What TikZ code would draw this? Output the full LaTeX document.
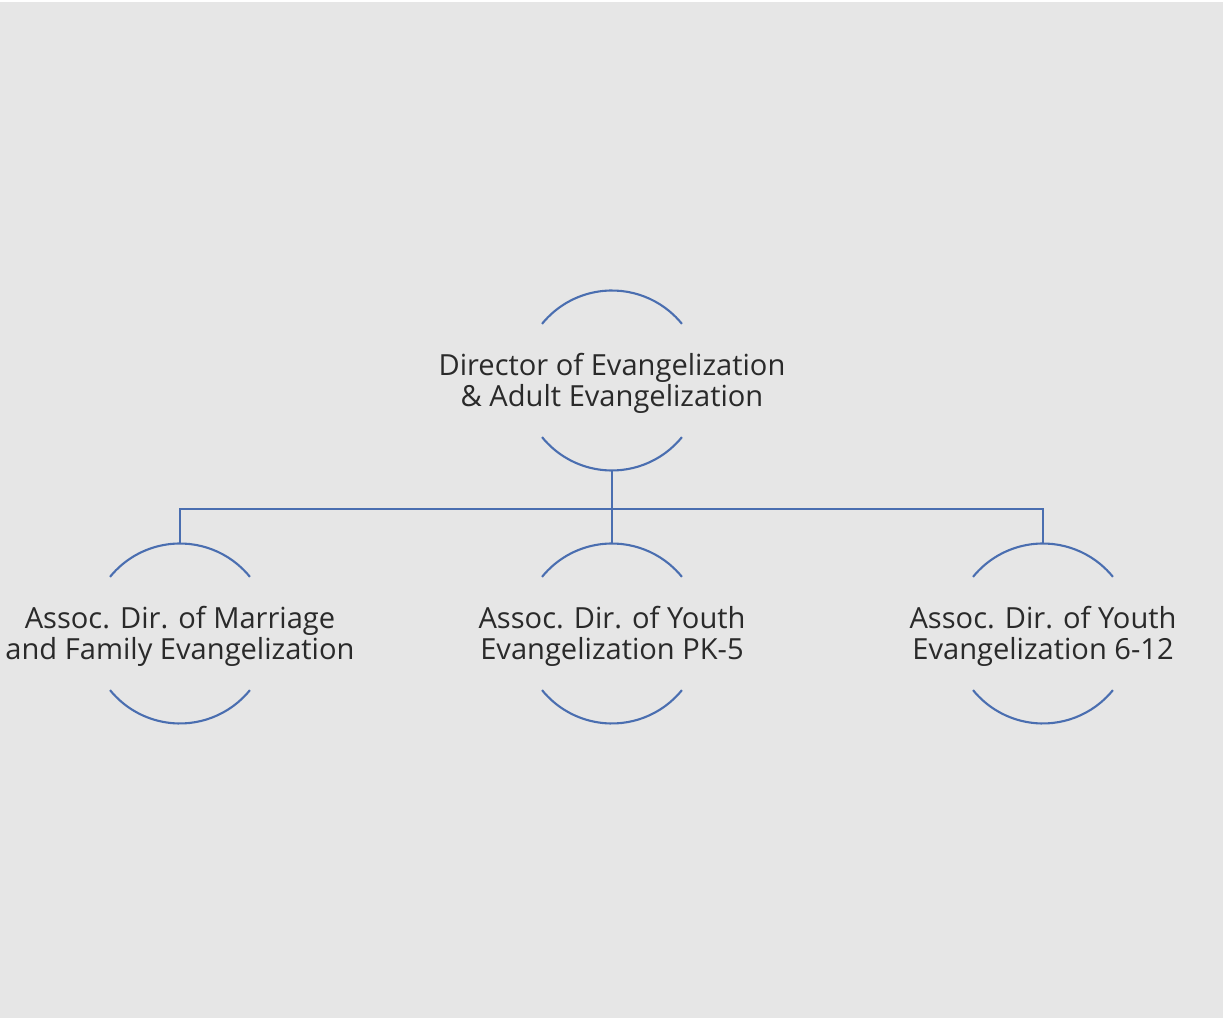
\documentclass[tikz,border=0pt]{standalone}
\usepackage{fontspec}
\setmainfont{Open Sans}
\usepackage{tikz}
\definecolor{bggray}{HTML}{E6E6E6}
\definecolor{linkblue}{HTML}{4A6EB0}
\definecolor{labelgray}{HTML}{2A2A2A}

\begin{document}
\begin{tikzpicture}[x=0.02cm, y=0.02cm,
    ring/.style={circle, minimum size=3.6cm, inner sep=0pt, outer sep=0pt},
    label/.style={align=center, text=labelgray, yshift=-0.06cm,
        font=\fontsize{16.55}{18}\selectfont},
    arcline/.style={draw=linkblue, line width=1.2pt},
    link/.style={draw=linkblue, line width=1.2pt}]

    % Page and background
    \useasboundingbox (0,0) rectangle (1225,1018);
    \fill[bggray] (0,0) rectangle (1223,1016);

    % Rings
    \node[ring] (dirring) at (612,637.5) {};
    \node[ring] (marrring) at (180,384.5) {};
    \node[ring] (pkring) at (612,384.5) {};
    \node[ring] (hsring) at (1043,384.5) {};

    % Labels
    \node[label] (dir) at (dirring) {Director of Evangelization\\\& Adult Evangelization};
    \node[label] (marr) at (marrring) {Assoc. Dir. of Marriage\\and Family Evangelization};
    \node[label] (pk) at (pkring) {Assoc. Dir. of Youth\\Evangelization PK-5};
    \node[label] (hs) at (hsring) {Assoc. Dir. of Youth\\Evangelization 6-12};

    % Arcs round each label
    \foreach \r in {dirring, marrring, pkring, hsring} {
        \draw[arcline] (\r.39) arc[start angle=39, end angle=141, radius=90];
        \draw[arcline] (\r.-39) arc[start angle=-39, end angle=-141, radius=90];
    }

    % Connectors
    \coordinate (bus) at (612,509);
    \draw[link] (dirring.south) -- (pkring.north);
    \draw[link] (marrring.north) |- (bus) -| (hsring.north);
\end{tikzpicture}
\end{document}
